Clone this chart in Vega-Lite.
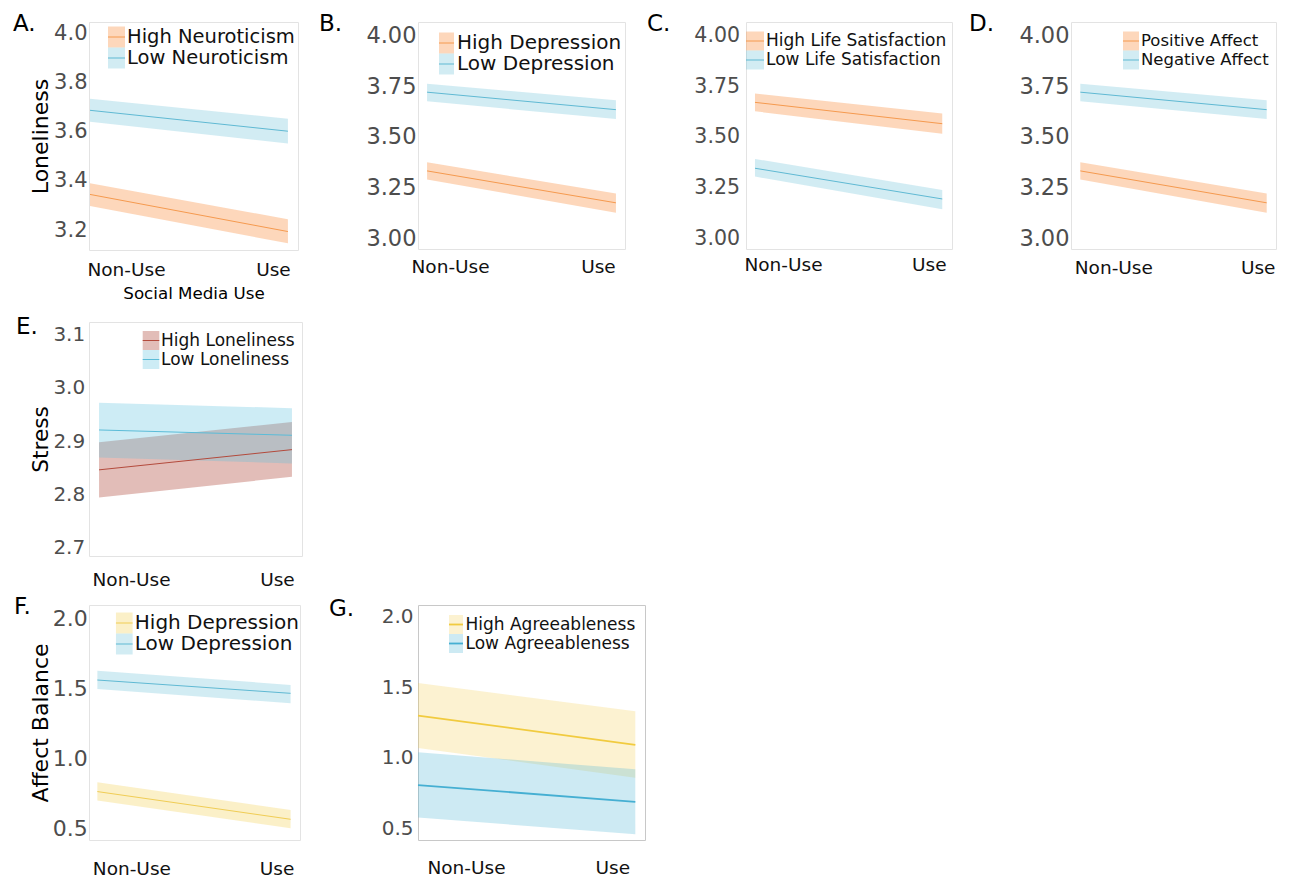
{
  "$schema": "https://vega.github.io/schema/vega-lite/v6.json",
  "padding": {"left": 12, "top": 12, "right": 5, "bottom": 0},
  "columns": 4,
  "spacing": {"row": 0, "column": 101},
  "bounds": "flush",
  "align": {"row": "each", "column": "none"},
  "resolve": {"scale": {"fill": "independent", "stroke": "independent"}, "legend": {"fill": "independent", "stroke": "independent"}},
  "concat": [
    {
      "width": 209, "height": 228,
      "title": {"text": "A.", "dx": -76, "dy": 18},
      "data": {"values": [
        {"use": "Non-Use", "group": "High Neuroticism", "fit": 3.345, "lo": 3.298, "hi": 3.39},
        {"use": "Use", "group": "High Neuroticism", "fit": 3.194, "lo": 3.146, "hi": 3.244},
        {"use": "Non-Use", "group": "Low Neuroticism", "fit": 3.687, "lo": 3.64, "hi": 3.734},
        {"use": "Use", "group": "Low Neuroticism", "fit": 3.602, "lo": 3.552, "hi": 3.653}
      ]},
      "encoding": {
        "x": {"field": "use", "type": "ordinal",
          "scale": {"type": "point", "domain": ["Non-Use", "Use"], "padding": 0.028, "align": 0.09},
          "axis": {"title": "Social Media Use", "labelPadding": 10, "titlePadding": 7,
            "labelOffset": {"condition": {"test": "datum.value == 'Non-Use'", "value": 36}, "value": -15}}},
        "y": {"type": "quantitative", "scale": {"domain": [3.119, 4.046], "nice": false, "zero": false},
          "axis": {"title": "Loneliness", "values": [3.2, 3.4, 3.6, 3.8, 4.0], "format": ".1f", "labelFontSize": 21, "labelPadding": 2, "titlePadding": 1}}
      },
      "layer": [
        {"mark": {"type": "area", "opacity": 1},
          "encoding": {
            "y": {"field": "lo"},
            "y2": {"field": "hi"},
            "fill": {"field": "group", "type": "nominal",
              "scale": {"domain": ["High Neuroticism", "Low Neuroticism"], "range": ["rgba(250,150,77,0.38)", "rgba(105,192,215,0.3)"]},
              "legend": {"title": null, "orient": "none", "legendX": 17, "legendY": 4.5, "symbolType": "M-0.81,-1H0.81V1H-0.81Z", "symbolSize": 441, "symbolStrokeWidth": 0, "symbolStrokeColor": "transparent", "labelFontSize": 19.5, "labelOffset": 0}}
          }},
        {"mark": {"type": "line", "strokeWidth": 1},
          "encoding": {
            "y": {"field": "fit"},
            "stroke": {"field": "group", "type": "nominal", "scale": {"range": ["#f59a4f", "#5fb9d3"]},
              "legend": {"title": null, "orient": "none", "legendX": 17, "legendY": 4.5, "symbolType": "M0,-0.95M-0.85,0H0.85M0,0.95", "symbolSize": 400, "symbolStrokeWidth": 1, "labelFontSize": 19.5, "labelOffset": 0, "labelExpr": "''", "encode": {"symbols": {"update": {"strokeJoin": {"value": "round"}}}}}}
          }}
      ]
    },
    {
      "width": 207, "height": 227,
      "title": {"text": "B.", "dx": -99, "dy": 18},
      "data": {"values": [
        {"use": "Non-Use", "group": "High Depression", "fit": 3.333, "lo": 3.291, "hi": 3.375},
        {"use": "Use", "group": "High Depression", "fit": 3.176, "lo": 3.127, "hi": 3.222},
        {"use": "Non-Use", "group": "Low Depression", "fit": 3.72, "lo": 3.675, "hi": 3.762},
        {"use": "Use", "group": "Low Depression", "fit": 3.634, "lo": 3.588, "hi": 3.68}
      ]},
      "encoding": {
        "x": {"field": "use", "type": "ordinal",
          "scale": {"type": "point", "domain": ["Non-Use", "Use"], "padding": 0.048, "align": 0.5},
          "axis": {"title": null, "labelPadding": 8,
            "labelOffset": {"condition": {"test": "datum.value == 'Non-Use'", "value": 23}, "value": -18}}},
        "y": {"type": "quantitative", "scale": {"domain": [2.949, 4.065], "nice": false, "zero": false},
          "axis": {"title": null, "values": [3.0, 3.25, 3.5, 3.75, 4.0], "format": ".2f", "labelFontSize": 22.5, "labelPadding": 2}}
      },
      "layer": [
        {"mark": {"type": "area", "opacity": 1},
          "encoding": {
            "y": {"field": "lo"},
            "y2": {"field": "hi"},
            "fill": {"field": "group", "type": "nominal",
              "scale": {"domain": ["High Depression", "Low Depression"], "range": ["rgba(250,150,77,0.38)", "rgba(105,192,215,0.3)"]},
              "legend": {"title": null, "orient": "none", "legendX": 18, "legendY": 10.5, "symbolType": "M-0.714,-1H0.714V1H-0.714Z", "symbolSize": 441, "symbolStrokeWidth": 0, "symbolStrokeColor": "transparent", "labelFontSize": 20, "labelOffset": 0}}
          }},
        {"mark": {"type": "line", "strokeWidth": 1},
          "encoding": {
            "y": {"field": "fit"},
            "stroke": {"field": "group", "type": "nominal", "scale": {"range": ["#f59a4f", "#5fb9d3"]},
              "legend": {"title": null, "orient": "none", "legendX": 18, "legendY": 10.5, "symbolType": "M0,-0.95M-0.75,0H0.75M0,0.95", "symbolSize": 400, "symbolStrokeWidth": 1, "labelFontSize": 20, "labelOffset": 0, "labelExpr": "''", "encode": {"symbols": {"update": {"strokeJoin": {"value": "round"}}}}}}
          }}
      ]
    },
    {
      "width": 206, "height": 227,
      "title": {"text": "C.", "dx": -99, "dy": 18},
      "data": {"values": [
        {"use": "Non-Use", "group": "High Life Satisfaction", "fit": 3.67, "lo": 3.626, "hi": 3.713},
        {"use": "Use", "group": "High Life Satisfaction", "fit": 3.565, "lo": 3.516, "hi": 3.615},
        {"use": "Non-Use", "group": "Low Life Satisfaction", "fit": 3.346, "lo": 3.305, "hi": 3.392},
        {"use": "Use", "group": "Low Life Satisfaction", "fit": 3.195, "lo": 3.145, "hi": 3.239}
      ]},
      "encoding": {
        "x": {"field": "use", "type": "ordinal",
          "scale": {"type": "point", "domain": ["Non-Use", "Use"], "padding": 0.05, "align": 0.48},
          "axis": {"title": null, "labelPadding": 6.3,
            "labelOffset": {"condition": {"test": "datum.value == 'Non-Use'", "value": 28}, "value": -13.5}}},
        "y": {"type": "quantitative", "scale": {"domain": [2.949, 4.065], "nice": false, "zero": false},
          "axis": {"title": null, "values": [3.0, 3.25, 3.5, 3.75, 4.0], "format": ".2f", "labelFontSize": 20.5, "labelPadding": 6.5}}
      },
      "layer": [
        {"mark": {"type": "area", "opacity": 1},
          "encoding": {
            "y": {"field": "lo"},
            "y2": {"field": "hi"},
            "fill": {"field": "group", "type": "nominal",
              "scale": {"domain": ["High Life Satisfaction", "Low Life Satisfaction"], "range": ["rgba(250,150,77,0.38)", "rgba(105,192,215,0.3)"]},
              "legend": {"title": null, "orient": "none", "legendX": -0.5, "legendY": 9.5, "symbolType": "M-0.947,-1H0.947V1H-0.947Z", "symbolSize": 361, "symbolStrokeWidth": 0, "symbolStrokeColor": "transparent", "labelFontSize": 17, "labelOffset": 1.5}}
          }},
        {"mark": {"type": "line", "strokeWidth": 1},
          "encoding": {
            "y": {"field": "fit"},
            "stroke": {"field": "group", "type": "nominal", "scale": {"range": ["#f59a4f", "#5fb9d3"]},
              "legend": {"title": null, "orient": "none", "legendX": -0.5, "legendY": 9.5, "symbolType": "M0,-0.944M-1,0H1M0,0.944", "symbolSize": 324, "symbolStrokeWidth": 1, "labelFontSize": 17, "labelOffset": 1.5, "labelExpr": "''", "encode": {"symbols": {"update": {"strokeJoin": {"value": "round"}}}}}}
          }}
      ]
    },
    {
      "width": 205, "height": 227,
      "title": {"text": "D.", "dx": -102, "dy": 18},
      "data": {"values": [
        {"use": "Non-Use", "group": "Positive Affect", "fit": 3.333, "lo": 3.291, "hi": 3.375},
        {"use": "Use", "group": "Positive Affect", "fit": 3.176, "lo": 3.127, "hi": 3.222},
        {"use": "Non-Use", "group": "Negative Affect", "fit": 3.72, "lo": 3.675, "hi": 3.762},
        {"use": "Use", "group": "Negative Affect", "fit": 3.634, "lo": 3.588, "hi": 3.68}
      ]},
      "encoding": {
        "x": {"field": "use", "type": "ordinal",
          "scale": {"type": "point", "domain": ["Non-Use", "Use"], "padding": 0.05, "align": 0.5},
          "axis": {"title": null, "labelPadding": 9.7,
            "labelOffset": {"condition": {"test": "datum.value == 'Non-Use'", "value": 33}, "value": -9}}},
        "y": {"type": "quantitative", "scale": {"domain": [2.949, 4.065], "nice": false, "zero": false},
          "axis": {"title": null, "values": [3.0, 3.25, 3.5, 3.75, 4.0], "format": ".2f", "labelFontSize": 22.5, "labelPadding": 2}}
      },
      "layer": [
        {"mark": {"type": "area", "opacity": 1},
          "encoding": {
            "y": {"field": "lo"},
            "y2": {"field": "hi"},
            "fill": {"field": "group", "type": "nominal",
              "scale": {"domain": ["Positive Affect", "Negative Affect"], "range": ["rgba(250,150,77,0.38)", "rgba(105,192,215,0.3)"]},
              "legend": {"title": null, "orient": "none", "legendX": 50.5, "legendY": 9.5, "symbolType": "M-0.842,-1H0.842V1H-0.842Z", "symbolSize": 361, "symbolStrokeWidth": 0, "symbolStrokeColor": "transparent", "labelFontSize": 16.5, "labelOffset": 0.5}}
          }},
        {"mark": {"type": "line", "strokeWidth": 1},
          "encoding": {
            "y": {"field": "fit"},
            "stroke": {"field": "group", "type": "nominal", "sort": "descending", "scale": {"range": ["#f59a4f", "#5fb9d3"]},
              "legend": {"title": null, "orient": "none", "legendX": 50.5, "legendY": 9.5, "symbolType": "M0,-0.944M-0.889,0H0.889M0,0.944", "symbolSize": 324, "symbolStrokeWidth": 1, "labelFontSize": 16.5, "labelOffset": 0.5, "labelExpr": "''", "encode": {"symbols": {"update": {"strokeJoin": {"value": "round"}}}}}}
          }}
      ]
    },
    {"width": 228, "height": 72, "data": {"values": []}, "mark": "point", "view": {"stroke": null}},
    {"width": 1, "height": 72, "data": {"values": []}, "mark": "point", "view": {"stroke": null}},
    {"width": 224, "height": 72, "data": {"values": []}, "mark": "point", "view": {"stroke": null}},
    {"width": 1, "height": 72, "data": {"values": []}, "mark": "point", "view": {"stroke": null}},
    {
      "width": 213, "height": 234,
      "title": {"text": "E.", "dx": -73, "dy": 21},
      "data": {"values": [
        {"use": "Non-Use", "group": "High Loneliness", "fit": 2.846, "lo": 2.794, "hi": 2.898},
        {"use": "Use", "group": "High Loneliness", "fit": 2.884, "lo": 2.833, "hi": 2.936},
        {"use": "Non-Use", "group": "Low Loneliness", "fit": 2.921, "lo": 2.869, "hi": 2.972},
        {"use": "Use", "group": "Low Loneliness", "fit": 2.911, "lo": 2.858, "hi": 2.962}
      ]},
      "encoding": {
        "x": {"field": "use", "type": "ordinal",
          "scale": {"type": "point", "domain": ["Non-Use", "Use"], "padding": 0.052, "align": 0.5},
          "axis": {"title": null, "labelPadding": 14,
            "labelOffset": {"condition": {"test": "datum.value == 'Non-Use'", "value": 32}, "value": -15}}},
        "y": {"type": "quantitative", "scale": {"domain": [2.684, 3.124], "nice": false, "zero": false},
          "axis": {"title": "Stress", "titleFontSize": 21.6, "values": [2.7, 2.8, 2.9, 3.0, 3.1], "format": ".1f", "labelFontSize": 20, "labelPadding": 4.3, "titlePadding": 0}}
      },
      "layer": [
        {"mark": {"type": "area", "opacity": 1},
          "encoding": {
            "y": {"field": "lo"},
            "y2": {"field": "hi"},
            "fill": {"field": "group", "type": "nominal",
              "scale": {"domain": ["High Loneliness", "Low Loneliness"], "range": ["rgba(172,66,52,0.35)", "rgba(91,192,222,0.3)"]},
              "legend": {"title": null, "orient": "none", "legendX": 52.5, "legendY": 9, "symbolType": "M-0.874,-1H0.874V1H-0.874Z", "symbolSize": 361, "symbolStrokeWidth": 0, "symbolStrokeColor": "transparent", "labelFontSize": 17, "labelOffset": 0.5}}
          }},
        {"mark": {"type": "line", "strokeWidth": 1},
          "encoding": {
            "y": {"field": "fit"},
            "stroke": {"field": "group", "type": "nominal", "scale": {"range": ["#b34a3c", "#5bbcd8"]},
              "legend": {"title": null, "orient": "none", "legendX": 52.5, "legendY": 9, "symbolType": "M0,-0.944M-0.922,0H0.922M0,0.944", "symbolSize": 324, "symbolStrokeWidth": 1, "labelFontSize": 17, "labelOffset": 0.5, "labelExpr": "''", "encode": {"symbols": {"update": {"strokeJoin": {"value": "round"}}}}}}
          }}
      ]
    },
    {"width": 1, "height": 1, "data": {"values": []}, "mark": "point", "view": {"stroke": null}},
    {"width": 1, "height": 1, "data": {"values": []}, "mark": "point", "view": {"stroke": null}},
    {"width": 1, "height": 1, "data": {"values": []}, "mark": "point", "view": {"stroke": null}},
    {"width": 1, "height": 49, "data": {"values": []}, "mark": "point", "view": {"stroke": null}},
    {"width": 1, "height": 49, "data": {"values": []}, "mark": "point", "view": {"stroke": null}},
    {"width": 1, "height": 49, "data": {"values": []}, "mark": "point", "view": {"stroke": null}},
    {"width": 1, "height": 49, "data": {"values": []}, "mark": "point", "view": {"stroke": null}},
    {
      "width": 211, "height": 235,
      "title": {"text": "F.", "dx": -75, "dy": 18},
      "data": {"values": [
        {"use": "Non-Use", "group": "High Depression", "fit": 0.762, "lo": 0.698, "hi": 0.829},
        {"use": "Use", "group": "High Depression", "fit": 0.564, "lo": 0.5, "hi": 0.631},
        {"use": "Non-Use", "group": "Low Depression", "fit": 1.559, "lo": 1.495, "hi": 1.626},
        {"use": "Use", "group": "Low Depression", "fit": 1.464, "lo": 1.393, "hi": 1.524}
      ]},
      "encoding": {
        "x": {"field": "use", "type": "ordinal",
          "scale": {"type": "point", "domain": ["Non-Use", "Use"], "padding": 0.046, "align": 0.47},
          "axis": {"title": null, "labelPadding": 19,
            "labelOffset": {"condition": {"test": "datum.value == 'Non-Use'", "value": 34}, "value": -14}}},
        "y": {"type": "quantitative", "scale": {"domain": [0.416, 2.095], "nice": false, "zero": false},
          "axis": {"title": "Affect Balance", "values": [0.5, 1.0, 1.5, 2.0], "format": ".1f", "labelFontSize": 22, "labelPadding": 1.7, "titlePadding": 0}}
      },
      "layer": [
        {"mark": {"type": "area", "opacity": 1},
          "encoding": {
            "y": {"field": "lo"},
            "y2": {"field": "hi"},
            "fill": {"field": "group", "type": "nominal",
              "scale": {"domain": ["High Depression", "Low Depression"], "range": ["rgba(242,205,72,0.3)", "rgba(105,192,215,0.3)"]},
              "legend": {"title": null, "orient": "none", "legendX": 24.8, "legendY": 7.5, "symbolType": "M-0.795,-1H0.795V1H-0.795Z", "symbolSize": 441, "symbolStrokeWidth": 0, "symbolStrokeColor": "transparent", "labelFontSize": 20, "labelOffset": 0}}
          }},
        {"mark": {"type": "line", "strokeWidth": 1},
          "encoding": {
            "y": {"field": "fit"},
            "stroke": {"field": "group", "type": "nominal", "scale": {"range": ["#f0cd55", "#5fb9d3"]},
              "legend": {"title": null, "orient": "none", "legendX": 24.8, "legendY": 7.5, "symbolType": "M0,-0.95M-0.835,0H0.835M0,0.95", "symbolSize": 400, "symbolStrokeWidth": 1, "labelFontSize": 20, "labelOffset": 0, "labelExpr": "''", "encode": {"symbols": {"update": {"strokeJoin": {"value": "round"}}}}}}
          }}
      ]
    },
    {
      "width": 227, "height": 235,
      "title": {"text": "G.", "dx": -89, "dy": 19.7},
      "view": {"stroke": "#c8c8c8"},
      "data": {"values": [
        {"use": "Non-Use", "group": "High Agreeableness", "fit": 1.299, "lo": 1.07, "hi": 1.529},
        {"use": "Use", "group": "High Agreeableness", "fit": 1.093, "lo": 0.861, "hi": 1.329},
        {"use": "Non-Use", "group": "Low Agreeableness", "fit": 0.809, "lo": 0.58, "hi": 1.041},
        {"use": "Use", "group": "Low Agreeableness", "fit": 0.691, "lo": 0.463, "hi": 0.92}
      ]},
      "encoding": {
        "x": {"field": "use", "type": "ordinal",
          "scale": {"type": "point", "domain": ["Non-Use", "Use"], "padding": 0.0223, "align": 0},
          "axis": {"title": null, "labelPadding": 18,
            "labelOffset": {"condition": {"test": "datum.value == 'Non-Use'", "value": 48}, "value": -23}}},
        "y": {"type": "quantitative", "scale": {"domain": [0.422, 2.078], "nice": false, "zero": false},
          "axis": {"title": null, "values": [0.5, 1.0, 1.5, 2.0], "format": ".1f", "labelFontSize": 20, "labelPadding": 5}}
      },
      "layer": [
        {"mark": {"type": "area", "opacity": 1},
          "encoding": {
            "y": {"field": "lo"},
            "y2": {"field": "hi"},
            "fill": {"field": "group", "type": "nominal",
              "scale": {"domain": ["High Agreeableness", "Low Agreeableness"], "range": ["rgba(242,205,72,0.25)", "rgba(91,185,215,0.3)"]},
              "legend": {"title": null, "orient": "none", "legendX": 28.5, "legendY": 10, "symbolType": "M-0.737,-1H0.737V1H-0.737Z", "symbolSize": 361, "symbolStrokeWidth": 0, "symbolStrokeColor": "transparent", "labelFontSize": 17, "labelOffset": 0}}
          }},
        {"mark": {"type": "line", "strokeWidth": 1.8},
          "encoding": {
            "y": {"field": "fit"},
            "stroke": {"field": "group", "type": "nominal", "scale": {"range": ["#f1cb3f", "#45afd2"]},
              "legend": {"title": null, "orient": "none", "legendX": 28.5, "legendY": 10, "symbolType": "M0,-0.9006M-0.819,0H0.819M0,0.9006", "symbolSize": 292.41, "symbolStrokeWidth": 1.8, "labelFontSize": 17, "labelOffset": 0, "labelExpr": "''", "encode": {"symbols": {"update": {"strokeJoin": {"value": "round"}}}}}}
          }}
      ]
    }
  ],
  "config": {
    "font": "DejaVu Sans",
    "view": {"stroke": "#e3e3e3", "strokeWidth": 1},
    "axis": {"ticks": false, "tickSize": 0, "domain": false, "grid": false, "labelFont": "DejaVu Sans", "titleFont": "DejaVu Sans", "titleFontWeight": "normal", "titleColor": "#000000"},
    "axisX": {"labelFontSize": 18.5, "labelColor": "#111111", "titleFontSize": 16.7, "labelAngle": 0},
    "axisY": {"labelColor": "#4d4d4d", "titleFontSize": 22},
    "legend": {"labelFont": "DejaVu Sans", "labelColor": "#111111", "padding": 0, "rowPadding": 0, "direction": "vertical", "labelLimit": 400},
    "title": {"font": "DejaVu Sans", "fontWeight": "normal", "fontSize": 23, "color": "#000000", "anchor": "start", "frame": "group", "offset": 0, "baseline": "alphabetic"}
  }
}
